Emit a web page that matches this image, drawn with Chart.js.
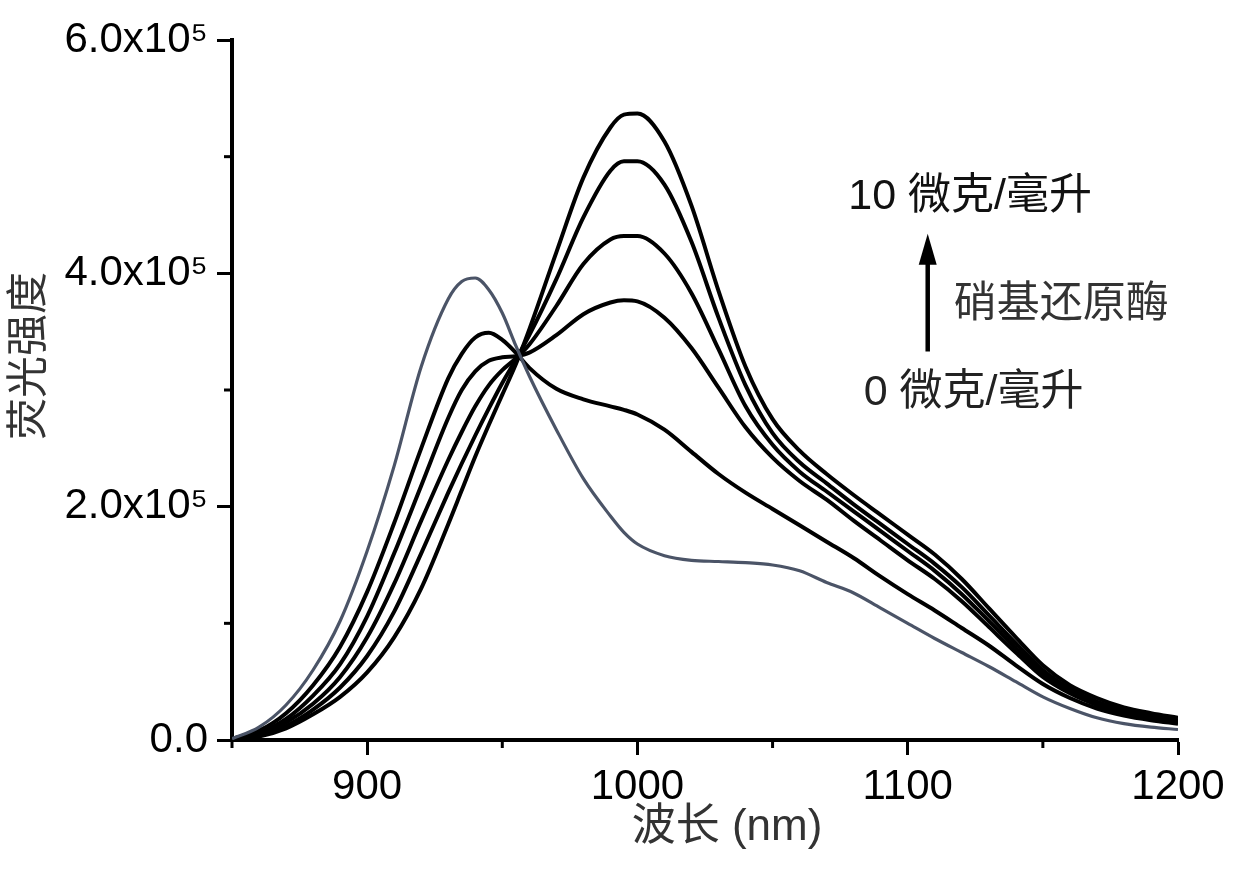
<!DOCTYPE html>
<html>
<head>
<meta charset="utf-8">
<script src="https://cdn.jsdelivr.net/npm/chart.js@4.4.1/dist/chart.umd.min.js"></script>
<style>
  html, body { margin: 0; padding: 0; background: #ffffff; }
  #wrap { width: 1239px; height: 870px; }
</style>
</head>
<body>
<div id="wrap"><canvas id="c" width="1239" height="870"></canvas></div>
<script>
// ---------- data (intensity in units of 10^5) ----------
const wavelengths = [850,860,870,880,890,900,910,920,930,935,940,945,950,955,960,970,980,990,995,1000,
                     1010,1020,1030,1040,1050,1060,1070,1080,1090,1100,1110,1120,1130,1140,1150,1160,1170,1180,1190,1200];

const conc0  = [0.01,0.11,0.30,0.60,1.02,1.62,2.35,3.20,3.78,3.93,3.96,3.86,3.66,3.38,3.12,2.66,2.24,1.92,1.78,1.68,
                1.58,1.54,1.53,1.52,1.50,1.45,1.35,1.26,1.13,1.00,0.87,0.75,0.63,0.50,0.37,0.27,0.19,0.14,0.11,0.09];
const conc1  = [0.01,0.08,0.23,0.47,0.80,1.27,1.86,2.50,3.10,3.31,3.45,3.49,3.43,3.32,3.19,3.01,2.92,2.86,2.83,2.79,
                2.66,2.47,2.28,2.12,1.98,1.84,1.70,1.56,1.40,1.25,1.11,0.96,0.81,0.64,0.48,0.36,0.27,0.21,0.17,0.14];
const conc2  = [0.01,0.06,0.18,0.38,0.65,1.06,1.60,2.18,2.76,3.00,3.16,3.25,3.28,3.29,3.32,3.47,3.65,3.75,3.77,3.76,
                3.62,3.36,3.02,2.68,2.42,2.22,2.06,1.88,1.71,1.54,1.38,1.19,0.97,0.75,0.54,0.40,0.30,0.23,0.18,0.15];
const conc3  = [0.01,0.05,0.15,0.31,0.54,0.88,1.34,1.88,2.40,2.64,2.86,3.04,3.17,3.27,3.39,3.72,4.08,4.29,4.32,4.32,
                4.17,3.83,3.35,2.86,2.53,2.30,2.13,1.96,1.79,1.62,1.45,1.25,1.02,0.79,0.57,0.42,0.32,0.25,0.20,0.16];
const conc4  = [0.01,0.04,0.12,0.26,0.45,0.72,1.10,1.60,2.12,2.37,2.61,2.84,3.06,3.26,3.47,3.95,4.48,4.88,4.96,4.96,
                4.76,4.27,3.62,3.04,2.63,2.38,2.20,2.02,1.85,1.68,1.51,1.31,1.07,0.83,0.60,0.44,0.33,0.26,0.21,0.17];
const conc5  = [0.01,0.03,0.10,0.22,0.37,0.58,0.88,1.30,1.85,2.14,2.43,2.70,2.96,3.22,3.52,4.18,4.82,5.25,5.36,5.37,
                5.13,4.58,3.85,3.20,2.75,2.48,2.28,2.10,1.93,1.76,1.59,1.38,1.13,0.88,0.64,0.47,0.36,0.28,0.23,0.19];

const seriesNames = ['0 微克/毫升', '2 微克/毫升', '4 微克/毫升', '6 微克/毫升', '8 微克/毫升', '10 微克/毫升'];
const xMajorTicks = [900, 1000, 1100, 1200];
const yMajorTicks = [0, 2, 4, 6];

// ---------- helpers ----------
const LATIN = '"Liberation Sans", Arial, "Noto Sans CJK SC", sans-serif';
const CJK = '"Liberation Sans", "Noto Sans CJK SC", sans-serif';
const toPoints = arr => wavelengths.map((w, i) => ({ x: w, y: arr[i] }));
const allSeries = [conc0, conc1, conc2, conc3, conc4, conc5];
const lineColors = ['#4b5467', '#000000', '#000000', '#000000', '#000000', '#000000'];

const datasets = allSeries.map((arr, i) => ({
  label: seriesNames[i],
  data: toPoints(arr),
  borderColor: lineColors[i],
  borderWidth: i === 0 ? 3.2 : 4,
  pointRadius: 0,
  fill: false,
  cubicInterpolationMode: 'monotone',
  order: i === 0 ? 0 : 1
}));

const decorations = {
  id: 'decorations',
  beforeDraw(chart) {
    const ctx = chart.ctx;
    ctx.save();
    ctx.fillStyle = '#ffffff';
    ctx.fillRect(0, 0, chart.width, chart.height);
    ctx.restore();
  },
  afterDraw(chart) {
    const ctx = chart.ctx;
    const xs = chart.scales.x, ys = chart.scales.y;
    ctx.save();
    // minor ticks
    ctx.strokeStyle = '#000';
    ctx.lineWidth = 3;
    xs.ticks.forEach(t => {
      if (!xMajorTicks.includes(t.value)) {
        const px = xs.getPixelForValue(t.value);
        ctx.beginPath(); ctx.moveTo(px, xs.top); ctx.lineTo(px, xs.top + 8); ctx.stroke();
      }
    });
    ys.ticks.forEach(t => {
      if (!yMajorTicks.includes(t.value)) {
        const py = ys.getPixelForValue(t.value);
        ctx.beginPath(); ctx.moveTo(ys.right, py); ctx.lineTo(ys.right - 8, py); ctx.stroke();
      }
    });

    // axis titles
    ctx.fillStyle = '#333';
    ctx.textAlign = 'center';
    ctx.textBaseline = 'middle';
    ctx.font = '44px ' + CJK;
    ctx.fillText('波长 (nm)', 727, 828);
    ctx.font = '42px ' + CJK;
    ctx.save();
    ctx.translate(30, 356);
    ctx.rotate(-Math.PI / 2);
    ctx.fillText('荧光强度', 0, 0);
    ctx.restore();

    // annotation: arrow + labels
    const ax = xs.getPixelForValue(1107.4);
    const yBot = ys.getPixelForValue(3.33);
    const yTip = ys.getPixelForValue(4.34);
    ctx.strokeStyle = '#000';
    ctx.lineWidth = 4.5;
    ctx.beginPath(); ctx.moveTo(ax, yBot); ctx.lineTo(ax, yTip + 25); ctx.stroke();
    ctx.fillStyle = '#000';
    ctx.beginPath();
    ctx.moveTo(ax, yTip);
    ctx.lineTo(ax - 9, yTip + 31);
    ctx.lineTo(ax + 9, yTip + 31);
    ctx.closePath();
    ctx.fill();

    ctx.textAlign = 'left';
    ctx.textBaseline = 'middle';
    ctx.font = '43px ' + CJK;
    ctx.fillStyle = '#111';
    ctx.fillText('10 微克/毫升', xs.getPixelForValue(1078), ys.getPixelForValue(4.65));
    ctx.fillStyle = '#333';
    ctx.fillText('硝基还原酶', xs.getPixelForValue(1117), ys.getPixelForValue(3.73));
    ctx.fillStyle = '#222';
    ctx.fillText('0 微克/毫升', xs.getPixelForValue(1083.7), ys.getPixelForValue(2.97));
    ctx.restore();
  }
};

new Chart(document.getElementById('c'), {
  type: 'line',
  data: { datasets },
  options: {
    responsive: false,
    animation: false,
    devicePixelRatio: 1,
    layout: { padding: { left: 0, right: 61, top: 40, bottom: 0 } },
    plugins: { legend: { display: false }, tooltip: { enabled: false }, title: { display: false } },
    scales: {
      x: {
        type: 'linear',
        min: 850, max: 1200,
        border: { display: true, color: '#000', width: 4 },
        grid: {
          drawOnChartArea: false, drawTicks: true, tickLength: 15, tickWidth: 3,
          tickColor: c => (xMajorTicks.includes(c.tick.value) ? '#000' : 'rgba(0,0,0,0)')
        },
        ticks: {
          stepSize: 50, autoSkip: false, maxRotation: 0, padding: 7,
          color: '#000', font: { family: LATIN, size: 42 },
          callback: v => (xMajorTicks.includes(v) ? String(v) : '')
        },
        afterFit: s => { s.height = 130; }
      },
      y: {
        type: 'linear',
        min: 0, max: 6,
        border: { display: true, color: '#000', width: 4 },
        grid: {
          drawOnChartArea: false, drawTicks: true, tickLength: 15, tickWidth: 3,
          tickColor: c => (yMajorTicks.includes(c.tick.value) ? '#000' : 'rgba(0,0,0,0)')
        },
        ticks: {
          stepSize: 1, autoSkip: false, padding: 9,
          color: '#000', font: { family: LATIN, size: 42 },
          callback: v => (yMajorTicks.includes(v) ? (v === 0 ? '0.0' : v.toFixed(1) + 'x10\u2075') : '')
        },
        afterFit: s => { s.width = 232; }
      }
    }
  },
  plugins: [decorations]
});
</script>
</body>
</html>
